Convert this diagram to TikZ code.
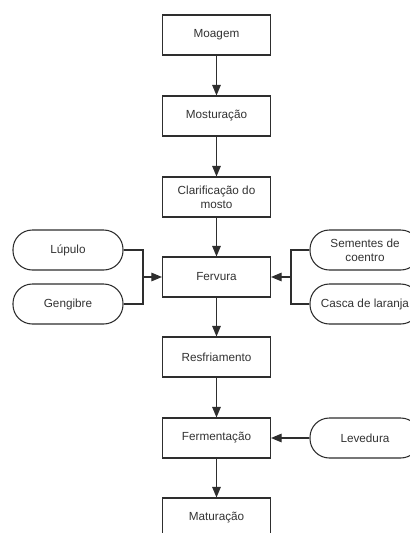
\documentclass[tikz,border=0pt]{standalone}
\usepackage{fontspec}
\setmainfont{Liberation Sans}
\usetikzlibrary{arrows.meta}
\definecolor{linha}{HTML}{2E2E2E}
\definecolor{texto}{HTML}{333333}
\tikzset{
  etapa/.style={draw=linha,line width=0.8pt,fill=white,minimum width=81pt,minimum height=30pt,align=center,inner sep=2pt,text=texto,font=\fontsize{8.8}{10.5}\selectfont},
  insumo/.style={etapa,minimum width=82.5pt,rounded corners=14.5pt},
  seta/.style={-{Triangle[length=8pt,width=6.5pt]},linha,line width=0.8pt},
  liga/.style={linha,line width=0.8pt},
}

\begin{document}
\begin{tikzpicture}[x=0.75pt,y=-0.75pt]
  \useasboundingbox (0,0) rectangle (410,533);
  \clip (0,0) rectangle (410,533);
  % etapas do processo
  \node[etapa] (moagem) at (216.5,35) {Moagem};
  \node[etapa] (mosturacao) at (216.5,116) {Mosturação};
  \node[etapa] (clarificacao) at (216.5,197) {Clarificação do\\mosto};
  \node[etapa] (fervura) at (216.5,277) {Fervura};
  \node[etapa] (resfriamento) at (216.5,357) {Resfriamento};
  \node[etapa] (fermentacao) at (216.5,438) {Fermentação};
  \node[etapa] (maturacao) at (216.5,518) {Maturação};
  % insumos
  \node[insumo] (lupulo) at (68,250) {Lúpulo};
  \node[insumo] (gengibre) at (68,304) {Gengibre};
  \node[insumo] (sementes) at (365,250) {Sementes de\\coentro};
  \node[insumo] (casca) at (365,304) {Casca de laranja};
  \node[insumo] (levedura) at (365,438) {Levedura};
  \coordinate (juntaE) at (143,277);
  \coordinate (juntaD) at (291,277);
  % ligacoes
  \foreach \a/\b in {moagem/mosturacao,mosturacao/clarificacao,clarificacao/fervura,
                     fervura/resfriamento,resfriamento/fermentacao,fermentacao/maturacao}
    \draw[seta] (\a) -- (\b);
  \draw[liga] (lupulo.east) -| (juntaE) |- (gengibre.east);
  \draw[seta] (juntaE) -- (fervura.west);
  \draw[liga] (sementes.west) -| (juntaD) |- (casca.west);
  \draw[seta] (juntaD) -- (fervura.east);
  \draw[seta] (levedura) -- (fermentacao);
\end{tikzpicture}
\end{document}
